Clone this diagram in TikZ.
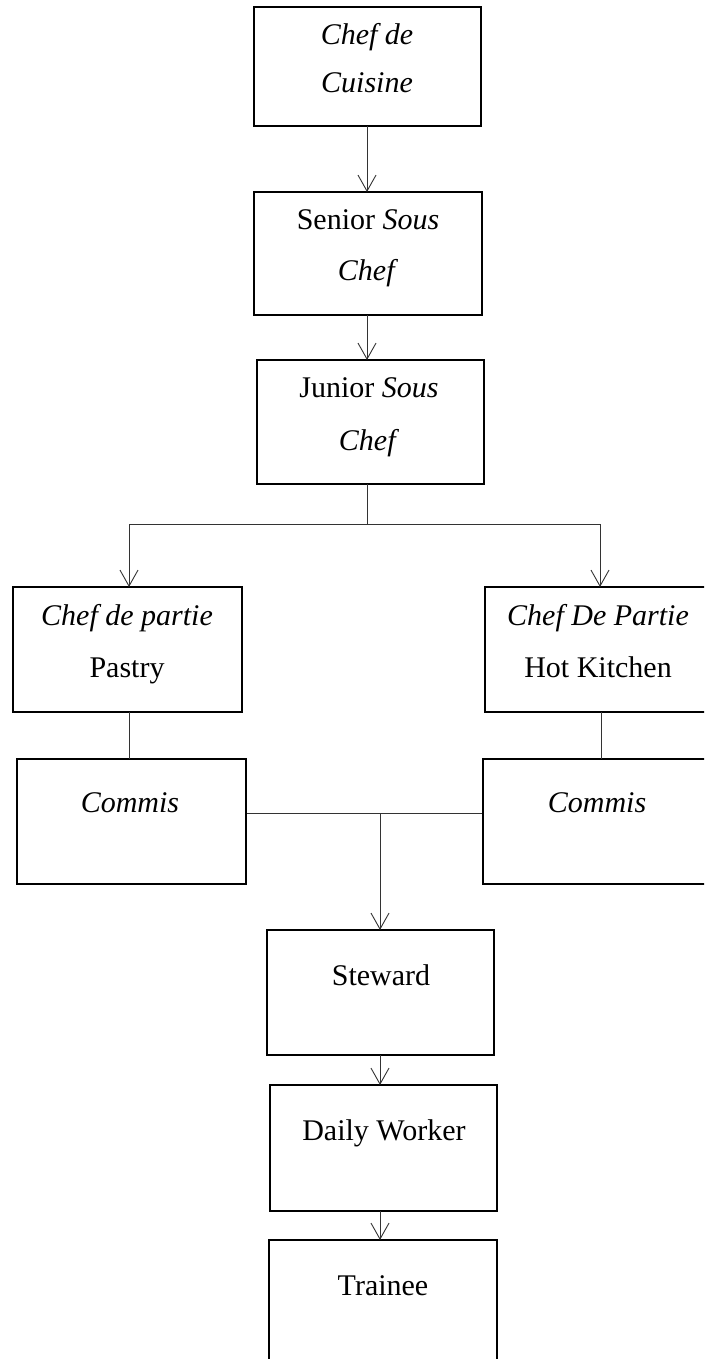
\documentclass[tikz,border=0pt]{standalone}
\usepackage{fontspec}
\setmainfont{Liberation Serif}
\usetikzlibrary{arrows.meta}
\begin{document}
\begin{tikzpicture}[x=1pt,y=-1pt,
  box/.style={draw=black, line width=1.8pt, rectangle, inner sep=0pt},
  lbl/.style={anchor=base, inner sep=0pt, font=\fontsize{30}{35}\selectfont},
  conn/.style={draw=black!80, line width=0.9pt},
  arr/.style={conn, -{Straight Barb[length=16pt,width=18pt,line width=0.9pt]}}]
\useasboundingbox (0,0) rectangle (704,1359);
\clip (0,0) rectangle (704,1359);
% boxes
\node[box, minimum width=227pt, minimum height=119pt] (cdc) at (367.5,66.5) {};
\node[box, minimum width=228pt, minimum height=123pt] (ssc) at (368,253.5) {};
\node[box, minimum width=227pt, minimum height=124pt] (jsc) at (370.5,422) {};
\node[box, minimum width=229pt, minimum height=125pt] (cpp) at (127.5,649.5) {};
\node[box, minimum width=230pt, minimum height=125pt] (cph) at (600,649.5) {};
\node[box, minimum width=229pt, minimum height=125pt] (cml) at (131.5,821.5) {};
\node[box, minimum width=236pt, minimum height=125pt] (cmr) at (601,821.5) {};
\node[box, minimum width=227pt, minimum height=125pt] (stw) at (380.5,992.5) {};
\node[box, minimum width=227pt, minimum height=126pt] (dwk) at (383.5,1148) {};
\node[box, minimum width=228pt, minimum height=126pt] (trn) at (383,1303) {};
% labels
\node[lbl] (t1a) at (367,45) {\textit{Chef de}};
\node[lbl] (t1b) at (367,93) {\textit{Cuisine}};
\node[lbl] (t2a) at (368,229) {Senior \textit{Sous}};
\node[lbl] (t2b) at (368,280) {\textit{Chef}};
\node[lbl] (t3a) at (369,397) {Junior \textit{Sous}};
\node[lbl] (t3b) at (369,450) {\textit{Chef}};
\node[lbl] (t4a) at (127,625) {\textit{Chef de partie}};
\node[lbl] (t4b) at (127,677) {Pastry};
\node[lbl] (t5a) at (598,625) {\textit{Chef De Partie}};
\node[lbl] (t5b) at (598,677) {Hot Kitchen};
\node[lbl] (t6) at (130,812) {\textit{Commis}};
\node[lbl] (t7) at (597,812) {\textit{Commis}};
\node[lbl] (t8) at (381,985) {Steward};
\node[lbl] (t9) at (384,1140) {Daily Worker};
\node[lbl] (t10) at (383,1295) {Trainee};
% connectors
\coordinate (split) at (367,524);
\coordinate (spl) at (129,524);
\coordinate (spr) at (600,524);
\coordinate (join) at (380,813);
\draw[arr] (367,126) -- (367,192);
\draw[arr] (367,315) -- (367,360);
\draw[conn] (367,484) -- (split);
\draw[conn] (spl) -- (spr);
\draw[arr] (spl) -- (129,587);
\draw[arr] (spr) -- (600,587);
\draw[conn] (129,712) -- (129,759);
\draw[conn] (601,712) -- (601,759);
\draw[conn] (cml.east |- join) -- (cmr.west |- join);
\draw[arr] (join) -- (380,930);
\draw[arr] (380,1055) -- (380,1085);
\draw[arr] (380,1211) -- (380,1240);
\end{tikzpicture}
\end{document}
